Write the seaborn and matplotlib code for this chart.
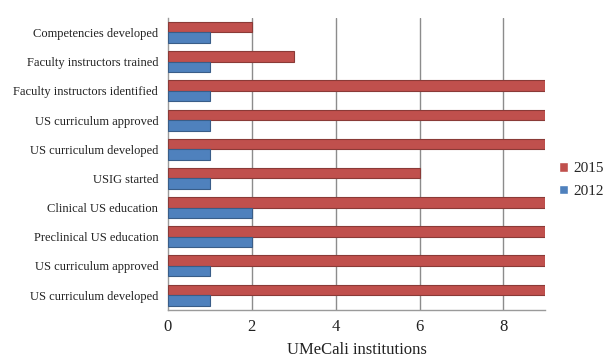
import matplotlib
matplotlib.use("Agg")
import matplotlib.pyplot as plt
import seaborn as sns
import pandas as pd
import numpy as np

categories = [
    "Competencies developed",
    "Faculty instructors trained",
    "Faculty instructors identified",
    "US curriculum approved",
    "US curriculum developed",
    "USIG started",
    "Clinical US education",
    "Preclinical US education",
    "US curriculum approved ",
    "US curriculum developed ",
]
values_2015 = [2, 3, 9, 9, 9, 6, 9, 9, 9, 9]
values_2012 = [1, 1, 1, 1, 1, 1, 2, 2, 1, 1]
years = ["2015", "2012"]
x_ticks = [0, 2, 4, 6, 8]

df = pd.DataFrame({
    "category": categories * 2,
    "year": [years[0]] * len(categories) + [years[1]] * len(categories),
    "count": values_2015 + values_2012,
})

sns.set_theme(style="white")
plt.rcParams["font.family"] = ["Liberation Serif", "DejaVu Serif"]

fig = plt.figure(figsize=(6.06, 3.58), dpi=100)
ax = fig.add_axes([0.277, 0.135, 0.623, 0.815])

palette = {"2015": "#C0504D", "2012": "#4F81BD"}
sns.barplot(data=df, y="category", x="count", hue="year", hue_order=years,
            order=categories, palette=palette, orient="h", width=0.72,
            saturation=1, ax=ax, zorder=3)

# darker rim on each bar for a raised look
for bar, col in zip(ax.patches, [palette["2015"]] * 10 + [palette["2012"]] * 10):
    bar.set_edgecolor(tuple(c * 0.72 for c in matplotlib.colors.to_rgb(col)))
    bar.set_linewidth(0.8)

ax.set_xlim(0, 9)
ax.set_xticks(x_ticks)
ax.set_xticklabels([str(t) for t in x_ticks], fontsize=12)
ax.set_ylim(len(categories) - 0.5, -0.5)
ax.set_yticks(range(len(categories)))
ax.set_yticklabels([c.strip() for c in categories], fontsize=9, color="#222222")
ax.set_ylabel("")
ax.set_xlabel("UMeCali institutions", fontsize=12, labelpad=5, color="#222222")

for xv in x_ticks[1:]:
    ax.axvline(xv, color="#8c8c8c", lw=1.0, zorder=1)

for side in ["top", "right"]:
    ax.spines[side].set_visible(False)
for side in ["left", "bottom"]:
    ax.spines[side].set_color("#9a9a9a")
    ax.spines[side].set_linewidth(1.0)

ax.set_yticks(np.arange(-0.5, len(categories), 1), minor=True)
ax.tick_params(axis="y", which="major", length=0, pad=7)
ax.tick_params(axis="y", which="minor", length=4, color="#9a9a9a", width=1)
ax.tick_params(axis="x", length=3, color="#9a9a9a", pad=4, colors="#222222")

handles, labels = ax.get_legend_handles_labels()
ax.legend_.remove()
fig.legend(handles, labels, loc="center left", bbox_to_anchor=(0.922, 0.497),
           frameon=False, fontsize=11, handlelength=0.6, handleheight=0.6,
           handletextpad=0.35, labelspacing=0.6, borderpad=0, borderaxespad=0)

fig.savefig("out.png", dpi=100)
